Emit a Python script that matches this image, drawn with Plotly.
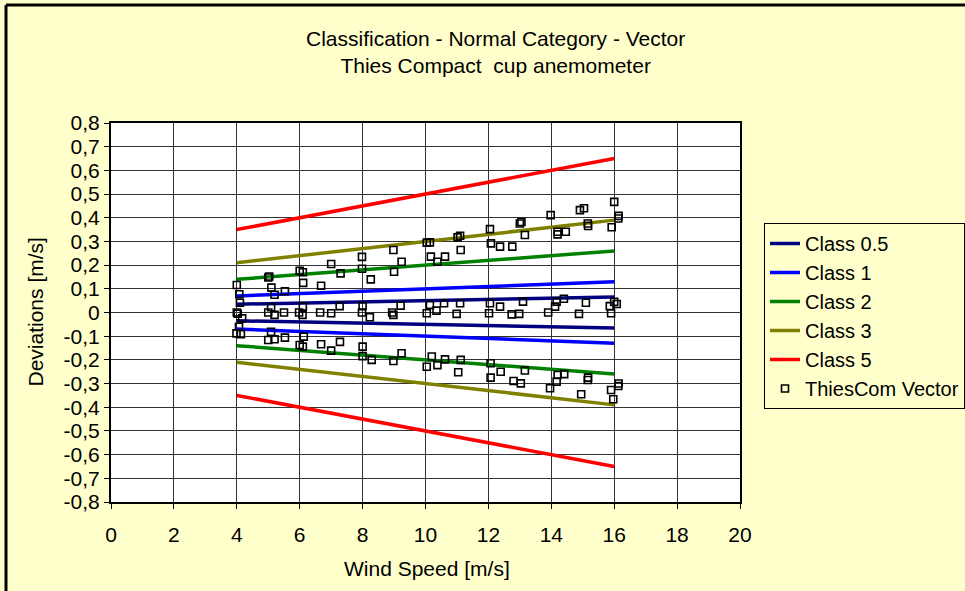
import plotly.graph_objects as go

# ---- class limit lines (deviation at 4 m/s and 16 m/s) ----
class_names = ["Class 0.5", "Class 1", "Class 2", "Class 3", "Class 5"]
class_colors = ["#000080", "#0000FF", "#008000", "#808000", "#FF0000"]
class_x = [4, 16]
class_upper = [[0.035, 0.065], [0.07, 0.13], [0.14, 0.26], [0.21, 0.39], [0.35, 0.65]]

# ---- measured deviations (ThiesCom Vector) ----
speed = [
    4.0, 4.08, 5.0, 5.03, 5.1, 5.2, 5.53, 6.0, 6.1, 6.11, 6.68, 7.0, 7.3, 7.98, 7.98, 8.26,
    8.98, 9.24, 9.0, 10.04, 10.14, 10.17, 10.38, 10.62, 11.02, 11.1, 11.12, 12.05, 12.08, 12.37,
    12.76, 13.0, 13.05, 13.16, 13.98, 14.2, 14.2, 14.46, 14.91, 15.04, 15.16, 15.17, 16.0, 16.13, 16.14, 15.92,
    4.1, 4.0, 4.03, 4.17, 5.09, 5.0, 5.2, 5.5, 6.1, 5.98, 6.09, 6.65, 7.0, 7.27, 8.0, 7.98,
    8.23, 8.94, 8.98, 9.21, 10.04, 10.14, 10.35, 10.59, 10.99, 11.1, 12.02, 12.05, 12.37, 12.74,
    12.98, 13.1, 13.9, 14.12, 14.17, 14.4, 14.88, 15.1, 15.86, 16.08, 15.9, 16.0,
    4.07, 3.99, 4.13, 5.09, 5.0, 5.2, 5.53, 6.13, 6.0, 6.1, 6.68, 7.0, 7.28, 8.0, 8.0, 8.29,
    8.98, 9.24, 10.04, 10.2, 10.38, 10.62, 11.04, 11.12, 12.07, 12.07, 12.39, 12.8, 13.03, 13.16,
    13.96, 14.17, 14.2, 14.41, 14.95, 15.16, 15.17, 15.9, 16.13, 16.14, 15.97,
]
deviation = [
    0.116, 0.077, 0.148, 0.152, 0.105, 0.075, 0.09, 0.176, 0.17, 0.125, 0.113, 0.205, 0.165, 0.235, 0.185, 0.14,
    0.264, 0.214, 0.172, 0.295, 0.296, 0.236, 0.214, 0.236, 0.317, 0.324, 0.264, 0.352, 0.292, 0.278,
    0.278, 0.376, 0.382, 0.327, 0.411, 0.341, 0.33, 0.341, 0.432, 0.44, 0.376, 0.365, 0.467, 0.397, 0.408, 0.36,
    0.041, 0.0, -0.005, -0.025, 0.022, 0.0, -0.01, 0.0, 0.025, 0.0, -0.01, 0.0, -0.003, 0.027, 0.027, 0.0,
    -0.02, 0.0, -0.01, 0.029, -0.003, 0.032, 0.008, 0.039, -0.006, 0.039, -0.003, 0.039, 0.025, -0.008,
    -0.006, 0.046, 0.0, 0.025, 0.046, 0.058, -0.006, 0.041, 0.027, 0.036, -0.003, 0.045,
    -0.06, -0.088, -0.092, -0.081, -0.116, -0.113, -0.106, -0.102, -0.137, -0.144, -0.134, -0.161, -0.124, -0.144, -0.184, -0.2,
    -0.205, -0.172, -0.229, -0.186, -0.222, -0.198, -0.252, -0.2, -0.214, -0.275, -0.25, -0.289, -0.299, -0.245,
    -0.32, -0.292, -0.264, -0.26, -0.345, -0.285, -0.275, -0.327, -0.31, -0.3, -0.366,
]

y_ticks = [round(-0.8 + 0.1 * i, 1) for i in range(17)]
y_ticktext = [("%.1f" % v).replace(".", ",").replace("-0,0", "0").replace("0,0", "0") for v in y_ticks]
x_ticks = list(range(0, 21, 2))

FONT = "Liberation Sans, Arial, sans-serif"
FS = 21
fig = go.Figure()

for name, col, up in zip(class_names, class_colors, class_upper):
    fig.add_trace(go.Scatter(
        x=class_x + [None] + class_x,
        y=up + [None] + [-v for v in up],
        mode="lines", name=name, legendgroup=name,
        line=dict(color=col, width=3.5),
    ))

fig.add_trace(go.Scatter(
    x=speed, y=deviation, mode="markers", name="ThiesCom Vector", legendgroup="data",
    marker=dict(symbol="square-open", size=7, color="black", line=dict(width=1.6, color="black")),
))

L, R, T, B = 111, 225, 123, 89
W, H = 965 - L - R, 591 - T - B

def px_x(p):
    return (p - L) / W

def px_y(p):
    return (591 - B - p) / H

fig.update_layout(
    width=965, height=591,
    margin=dict(l=L, r=R, t=T, b=B, autoexpand=False),
    paper_bgcolor="#FFFFCC", plot_bgcolor="white",
    font=dict(family=FONT, size=FS, color="black"),
    showlegend=True,
    legend=dict(
        xref="container", yref="container",
        x=764 / 965, y=1 - 223 / 591, xanchor="left", yanchor="top",
        bgcolor="#FFFFCC", bordercolor="black", borderwidth=1,
        font=dict(size=20), tracegroupgap=0, itemwidth=30,
    ),
    xaxis=dict(
        range=[0, 20], tickvals=x_ticks, showgrid=True, gridcolor="#333333", gridwidth=1,
        showline=True, linecolor="black", linewidth=2, mirror=True,
        ticks="outside", ticklen=5, tickcolor="black", zeroline=False,
        ticklabelstandoff=8,
    ),
    yaxis=dict(
        range=[-0.8, 0.8], tickvals=y_ticks, ticktext=y_ticktext,
        showgrid=True, gridcolor="#333333", gridwidth=1,
        showline=True, linecolor="black", linewidth=2, mirror=True,
        ticks="outside", ticklen=5, tickcolor="black", zeroline=False,
    ),
    annotations=[
        dict(text="Classification - Normal Category - Vector<br>Thies Compact  cup anemometer",
             x=px_x(495), y=px_y(52), xref="paper", yref="paper", showarrow=False,
             xanchor="center", yanchor="middle", font=dict(size=FS)),
        dict(text="Deviations [m/s]", textangle=-90, x=px_x(35), y=0.5,
             xref="paper", yref="paper", showarrow=False, xanchor="center", yanchor="middle"),
        dict(text="Wind Speed [m/s]", x=px_x(427), y=px_y(568),
             xref="paper", yref="paper", showarrow=False, xanchor="center", yanchor="middle"),
    ],
    shapes=[
        dict(type="line", xref="paper", yref="paper", x0=px_x(6), x1=px_x(1000), y0=px_y(5), y1=px_y(5),
             line=dict(color="black", width=3)),
        dict(type="line", xref="paper", yref="paper", x0=px_x(6), x1=px_x(6), y0=px_y(5), y1=px_y(620),
             line=dict(color="black", width=3)),
    ],
)

fig.write_html("out.html")
